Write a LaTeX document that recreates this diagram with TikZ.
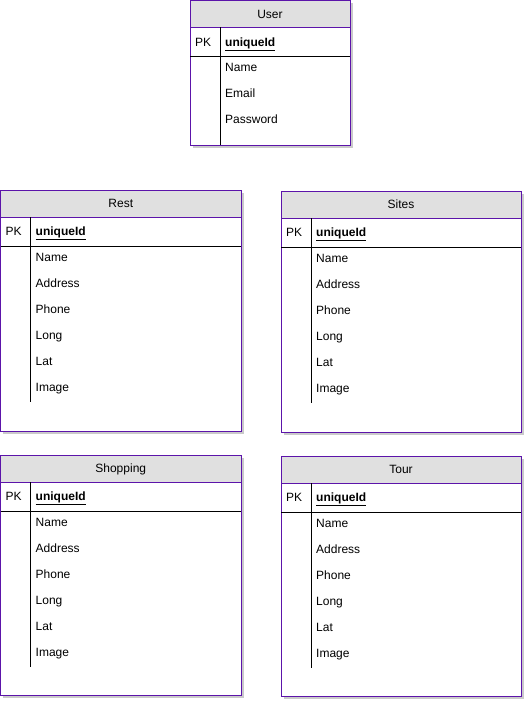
\documentclass[tikz,border=0pt]{standalone}
\usepackage{fontspec}
\setmainfont{Liberation Sans}
\usetikzlibrary{positioning}
\definecolor{TableEdge}{RGB}{92, 20, 170}
\definecolor{HeadGrey}{RGB}{224, 224, 224}

\tikzset{
  tablebox/.style={draw=TableEdge, line width=1pt},
  headbox/.style={tablebox, fill=HeadGrey},
  shadowbox/.style={fill=black!35, opacity=0.6},
  rowline/.style={black, line width=1pt},
  cell/.style={inner sep=0pt, anchor=west, text height=8.6pt, text depth=0pt,
    font=\fontsize{12}{14}\selectfont},
}

% #1 id, #2 left, #3 top, #4 width, #5 height, #6 title, #7 divider end, #8 fields
\newcommand{\entity}[8]{%
  \fill[shadowbox] (#2+2.5,#3+2.5) rectangle (#2+#4+2.5,#3+#5+2.5);
  \draw[tablebox, fill=white] (#2,#3) rectangle (#2+#4,#3+#5);
  \draw[headbox] (#2,#3) rectangle (#2+#4,#3+27);
  \node[cell, anchor=center] (#1-title) at (#2+#4/2,#3+13.5) {#6};
  % key row
  \node[cell] (#1-pk) at (#2+5,#3+41.5) {PK};
  \node[cell] (#1-key) at (#2+35,#3+41.5) {\underline{\textbf{uniqueId}}};
  \draw[rowline] (#2,#3+56) -- (#2+#4,#3+56);
  \draw[rowline] (#2+30,#3+27) -- (#2+30,#3+#7);
  % fields
  \foreach \f [count=\i] in {#8}
    \node[cell] (#1-f\i) at (#2+35,#3+67+26*\i-26) {\f};
}

\begin{document}
\begin{tikzpicture}[x=1pt, y=-1pt]
  \useasboundingbox (0,0) rectangle (524,701);

  % User table
  \entity{user}{190}{0.5}{160}{144.5}{User}{144.5}{Name, Email, Password}

  % Places
  \entity{rest}{0.5}{190}{240.5}{241}{Rest}{212}{Name, Address, Phone, Long, Lat, Image}
  \entity{sites}{281}{191}{240}{241}{Sites}{212}{Name, Address, Phone, Long, Lat, Image}
  \entity{shop}{0.5}{455}{240.5}{240}{Shopping}{212}{Name, Address, Phone, Long, Lat, Image}
  \entity{tour}{281}{456}{240}{240}{Tour}{212}{Name, Address, Phone, Long, Lat, Image}
\end{tikzpicture}
\end{document}
